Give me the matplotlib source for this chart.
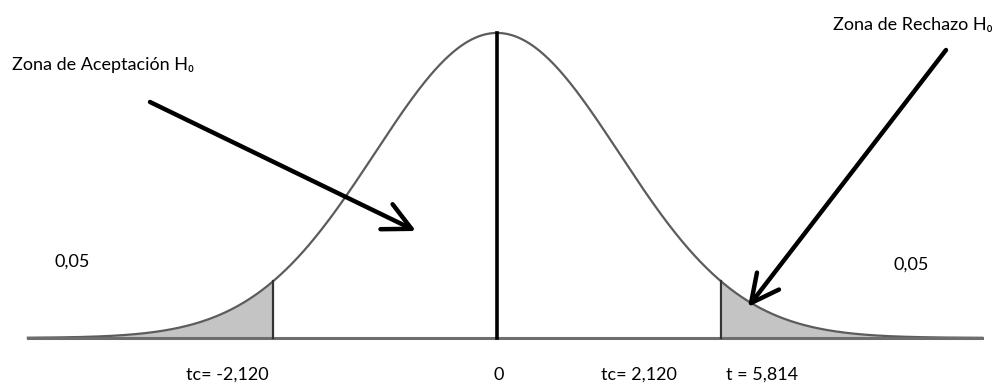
import numpy as np
import matplotlib.pyplot as plt

# valores del contraste
t_crit = 2.120
t_calc = 5.814
alpha = "0,05"
bottom_labels = ["tc= -2,120", "0", "tc= 2,120", "t = 5,814"]
bottom_label_x = [227, 499, 639, 762]   # pixel centres in the reference
curve_sigma = 1.155                      # width of the drawn bell, in t units
t_range = (-4.44, 4.59)

plt.rcParams['font.family'] = ['Lato', 'DejaVu Sans']
FS = 13

W, H = 1004, 387
fig = plt.figure(figsize=(W / 100, H / 100), dpi=100)
ax = fig.add_axes([0, 0, 1, 1])
ax.set_xlim(-4.704, 4.798)
ax.set_ylim(-0.161, 1.108)
ax.axis('off')


def fp(px, py):
    return (px / W, 1 - py / H)


t = np.linspace(t_range[0], t_range[1], 800)
y = np.exp(-0.5 * (t / curve_sigma) ** 2)

# colas sombreadas
ax.fill_between(t, 0, y, where=t <= -t_crit, color="#c4c4c4", lw=0)
ax.fill_between(t, 0, y, where=t >= t_crit, color="#c4c4c4", lw=0)

ax.plot(t, y, color="#5c5c5c", lw=1.6)
ax.plot(t_range, [0, 0], color="#6e6e6e", lw=2.2)

yc = np.exp(-0.5 * (t_crit / curve_sigma) ** 2)
ax.plot([-t_crit, -t_crit], [0, yc], color="#333333", lw=1.6)
ax.plot([t_crit, t_crit], [0, yc], color="#333333", lw=1.6)
ax.plot([0, 0], [0, 1], color="black", lw=2.6)

for lab, px in zip(bottom_labels, bottom_label_x):
    fig.text(*fp(px, 375), lab, ha='center', va='center', fontsize=FS)

fig.text(*fp(72, 262), alpha, ha='center', va='center', fontsize=FS)
fig.text(*fp(911, 265), alpha, ha='center', va='center', fontsize=FS)

fig.text(*fp(12, 65), "Zona de Aceptación H\u2080", ha='left', va='center', fontsize=FS)
fig.text(*fp(833, 25), "Zona de Rechazo H\u2080", ha='left', va='center', fontsize=FS)

arrow = dict(arrowstyle='->', lw=3.2, color='black', mutation_scale=50, shrinkA=0, shrinkB=0)
ax.annotate('', xy=fp(416, 231), xytext=fp(150, 102), xycoords='figure fraction',
            textcoords='figure fraction', arrowprops=arrow)
ax.annotate('', xy=fp(748, 307), xytext=fp(946, 50), xycoords='figure fraction',
            textcoords='figure fraction', arrowprops=arrow)

plt.savefig("out.png", dpi=100)
